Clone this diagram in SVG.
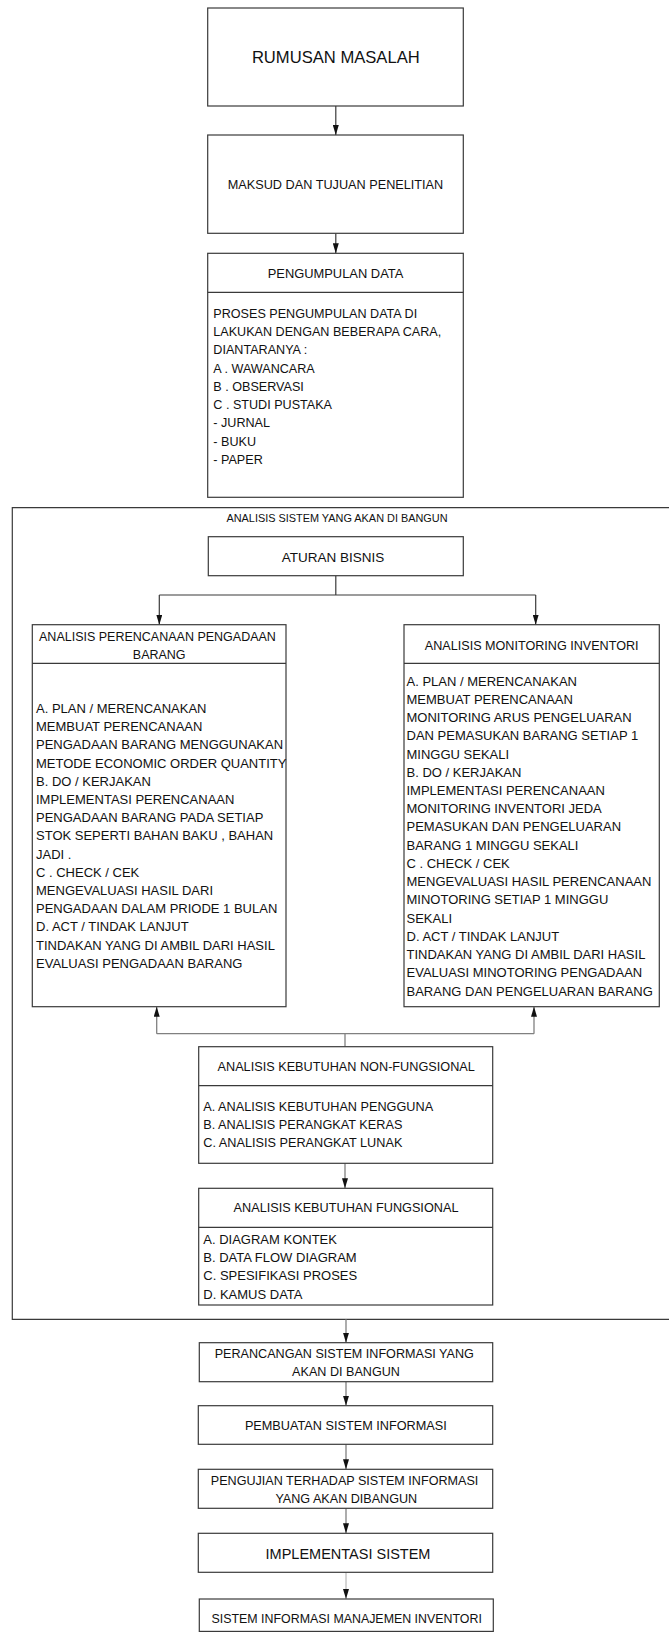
<svg xmlns="http://www.w3.org/2000/svg" width="669" height="1632" viewBox="0 0 669 1632">
<style>
  .box{fill:#fff;stroke:#3a3a3a;stroke-width:1.2}
  .div{stroke:#3a3a3a;stroke-width:1.2;fill:none}
  .ln{stroke:#3a3a3a;stroke-width:1.2;fill:none}
  .lg{stroke:#808080;stroke-width:1.3;fill:none}
  text{font-family:"Liberation Sans",Arial,sans-serif;fill:#111}
  .c{text-anchor:middle}
  .t{font-size:12.7px}
  .b{font-size:13px}
</style>
<defs>
  <marker id="ah" viewBox="0 0 10 6" refX="10" refY="3" markerWidth="10" markerHeight="6" markerUnits="userSpaceOnUse" orient="auto">
    <path d="M0,0 L10,3 L0,6 z" fill="#111"/>
  </marker>
</defs>
<rect width="669" height="1632" fill="#fff"/>

<g id="outer">
  <path class="ln" d="M671,1319.3 H12.3 V507.7 H671"/>
  <text class="c" x="337" y="522.2" style="font-size:10.9px">ANALISIS SISTEM YANG AKAN DI BANGUN</text>
</g>

<g id="connectors">
  <line class="ln" x1="335.8" y1="106" x2="335.8" y2="135" marker-end="url(#ah)"/>
  <line class="ln" x1="335.8" y1="233.3" x2="335.8" y2="253.3" marker-end="url(#ah)"/>
  <line class="ln" x1="335.8" y1="575.7" x2="335.8" y2="595"/>
  <line class="ln" x1="159.3" y1="595" x2="535.7" y2="595"/>
  <line class="ln" x1="159.3" y1="595" x2="159.3" y2="624.7" marker-end="url(#ah)"/>
  <line class="ln" x1="535.7" y1="595" x2="535.7" y2="624.7" marker-end="url(#ah)"/>
  <line class="lg" x1="156.7" y1="1033.7" x2="534" y2="1033.7"/>
  <line class="lg" x1="156.7" y1="1033.7" x2="156.7" y2="1006.7" marker-end="url(#ah)"/>
  <line class="lg" x1="534" y1="1033.7" x2="534" y2="1006.7" marker-end="url(#ah)"/>
  <line class="lg" x1="345" y1="1033.7" x2="345" y2="1046.7"/>
  <line class="lg" x1="345" y1="1163.3" x2="345" y2="1188.3" marker-end="url(#ah)"/>
  <line class="lg" x1="346" y1="1319.3" x2="346" y2="1342.7" marker-end="url(#ah)"/>
  <line class="lg" x1="346" y1="1381.7" x2="346" y2="1405.7" marker-end="url(#ah)"/>
  <line class="lg" x1="346" y1="1444.3" x2="346" y2="1469.3" marker-end="url(#ah)"/>
  <line class="lg" x1="346" y1="1508.3" x2="346" y2="1533.3" marker-end="url(#ah)"/>
  <line class="lg" x1="346" y1="1572.3" x2="346" y2="1599" marker-end="url(#ah)" style="stroke:#aaa;stroke-width:1"/>
</g>

<g id="rumusan">
  <rect class="box" x="207.7" y="8" width="255.6" height="98"/>
  <text class="c" x="335.8" y="63.2" style="font-size:16.6px">RUMUSAN MASALAH</text>
</g>

<g id="maksud">
  <rect class="box" x="207.7" y="135" width="255.6" height="98.3"/>
  <text class="c t" x="335.5" y="188.9">MAKSUD DAN TUJUAN PENELITIAN</text>
</g>

<g id="pengumpulan">
  <rect class="box" x="207.7" y="253.3" width="255.6" height="244"/>
  <line class="div" x1="207.7" y1="292.3" x2="463.3" y2="292.3"/>
  <text class="c" x="335.5" y="277.9" style="font-size:12.9px">PENGUMPULAN DATA</text>
  <text x="213.3" style="font-size:12.6px">
    <tspan x="213.3" y="317.9">PROSES PENGUMPULAN DATA DI</tspan>
    <tspan x="213.3" y="336.15">LAKUKAN DENGAN BEBERAPA CARA,</tspan>
    <tspan x="213.3" y="354.4">DIANTARANYA :</tspan>
    <tspan x="213.3" y="372.65">A . WAWANCARA</tspan>
    <tspan x="213.3" y="390.9">B . OBSERVASI</tspan>
    <tspan x="213.3" y="409.15">C . STUDI PUSTAKA</tspan>
    <tspan x="213.3" y="427.4">- JURNAL</tspan>
    <tspan x="213.3" y="445.65">- BUKU</tspan>
    <tspan x="213.3" y="463.9">- PAPER</tspan>
  </text>
</g>

<g id="aturan">
  <rect class="box" x="208.3" y="536.7" width="255" height="39"/>
  <text class="c" x="333" y="561.5" style="font-size:13.5px">ATURAN BISNIS</text>
</g>

<g id="pengadaan">
  <rect class="box" x="32.3" y="624.7" width="253.7" height="382"/>
  <line class="div" x1="32.3" y1="663.3" x2="286" y2="663.3"/>
  <text class="c" style="font-size:12.5px">
    <tspan x="159.2" y="641.2">ANALISIS PERENCANAAN PENGADAAN</tspan>
    <tspan x="159.2" y="658.8">BARANG</tspan>
  </text>
  <text class="b">
    <tspan x="36" y="712.9">A. PLAN / MERENCANAKAN</tspan>
    <tspan x="36" y="731.1">MEMBUAT PERENCANAAN</tspan>
    <tspan x="36" y="749.3">PENGADAAN BARANG MENGGUNAKAN</tspan>
    <tspan x="36" y="767.5">METODE ECONOMIC ORDER QUANTITY</tspan>
    <tspan x="36" y="785.7">B. DO / KERJAKAN</tspan>
    <tspan x="36" y="803.9">IMPLEMENTASI PERENCANAAN</tspan>
    <tspan x="36" y="822.1">PENGADAAN BARANG PADA SETIAP</tspan>
    <tspan x="36" y="840.3">STOK SEPERTI BAHAN BAKU , BAHAN</tspan>
    <tspan x="36" y="858.5">JADI .</tspan>
    <tspan x="36" y="876.7">C . CHECK / CEK</tspan>
    <tspan x="36" y="894.9">MENGEVALUASI HASIL DARI</tspan>
    <tspan x="36" y="913.1">PENGADAAN DALAM PRIODE 1 BULAN</tspan>
    <tspan x="36" y="931.3">D. ACT / TINDAK LANJUT</tspan>
    <tspan x="36" y="949.5">TINDAKAN YANG  DI AMBIL DARI HASIL</tspan>
    <tspan x="36" y="967.7">EVALUASI PENGADAAN BARANG</tspan>
  </text>
</g>

<g id="monitoring">
  <rect class="box" x="404" y="624.7" width="255.3" height="382"/>
  <line class="div" x1="404" y1="663.3" x2="659.3" y2="663.3"/>
  <text class="c" x="531.7" y="649.5" style="font-size:12.6px">ANALISIS MONITORING INVENTORI</text>
  <text class="b">
    <tspan x="406.5" y="685.6">A. PLAN / MERENCANAKAN</tspan>
    <tspan x="406.5" y="703.83">MEMBUAT PERENCANAAN</tspan>
    <tspan x="406.5" y="722.06">MONITORING ARUS PENGELUARAN</tspan>
    <tspan x="406.5" y="740.29">DAN  PEMASUKAN BARANG SETIAP 1</tspan>
    <tspan x="406.5" y="758.52">MINGGU SEKALI</tspan>
    <tspan x="406.5" y="776.75">B. DO / KERJAKAN</tspan>
    <tspan x="406.5" y="794.98">IMPLEMENTASI PERENCANAAN</tspan>
    <tspan x="406.5" y="813.21">MONITORING INVENTORI JEDA</tspan>
    <tspan x="406.5" y="831.44">PEMASUKAN DAN PENGELUARAN</tspan>
    <tspan x="406.5" y="849.67">BARANG 1 MINGGU SEKALI</tspan>
    <tspan x="406.5" y="867.9">C . CHECK / CEK</tspan>
    <tspan x="406.5" y="886.13">MENGEVALUASI HASIL PERENCANAAN</tspan>
    <tspan x="406.5" y="904.36">MINOTORING SETIAP 1 MINGGU</tspan>
    <tspan x="406.5" y="922.59">SEKALI</tspan>
    <tspan x="406.5" y="940.82">D. ACT / TINDAK LANJUT</tspan>
    <tspan x="406.5" y="959.05">TINDAKAN YANG  DI AMBIL DARI HASIL</tspan>
    <tspan x="406.5" y="977.28">EVALUASI MINOTORING  PENGADAAN</tspan>
    <tspan x="406.5" y="995.51">BARANG DAN PENGELUARAN BARANG</tspan>
  </text>
</g>

<g id="nonfungsional">
  <rect class="box" x="198.7" y="1046.7" width="294" height="116.6"/>
  <line class="div" x1="198.7" y1="1085.7" x2="492.7" y2="1085.7"/>
  <text class="c t" x="346.2" y="1070.5">ANALISIS KEBUTUHAN NON-FUNGSIONAL</text>
  <text class="t">
    <tspan x="203.3" y="1111.2">A. ANALISIS KEBUTUHAN PENGGUNA</tspan>
    <tspan x="203.3" y="1129.4">B. ANALISIS PERANGKAT KERAS</tspan>
    <tspan x="203.3" y="1147.4">C. ANALISIS PERANGKAT LUNAK</tspan>
  </text>
</g>

<g id="fungsional">
  <rect class="box" x="198.7" y="1188.3" width="294" height="116.7"/>
  <line class="div" x1="198.7" y1="1227.3" x2="492.7" y2="1227.3"/>
  <text class="c t" x="346" y="1212.2">ANALISIS KEBUTUHAN FUNGSIONAL</text>
  <text class="b">
    <tspan x="203.3" y="1243.8">A. DIAGRAM KONTEK</tspan>
    <tspan x="203.3" y="1261.8">B. DATA FLOW DIAGRAM</tspan>
    <tspan x="203.3" y="1280.2">C. SPESIFIKASI PROSES</tspan>
    <tspan x="203.3" y="1298.5">D. KAMUS DATA</tspan>
  </text>
</g>

<g id="perancangan">
  <rect class="box" x="199.3" y="1342.7" width="293.4" height="39"/>
  <text class="c" style="font-size:12.6px">
    <tspan x="346" y="1357.8">PERANCANGAN SISTEM INFORMASI YANG</tspan>
    <tspan x="346" y="1376.2">AKAN DI BANGUN</tspan>
  </text>
</g>

<g id="pembuatan">
  <rect class="box" x="198.3" y="1405.7" width="294.4" height="38.6"/>
  <text class="c t" x="345.8" y="1429.5">PEMBUATAN SISTEM INFORMASI</text>
</g>

<g id="pengujian">
  <rect class="box" x="198.3" y="1469.3" width="294.4" height="39"/>
  <text class="c" style="font-size:12.6px">
    <tspan x="346.3" y="1484.5">PENGUJIAN TERHADAP SISTEM INFORMASI</tspan>
    <tspan x="346.3" y="1502.8">YANG AKAN DIBANGUN</tspan>
  </text>
</g>

<g id="implementasi">
  <rect class="box" x="198.3" y="1533.3" width="294.4" height="39"/>
  <text class="c" x="348" y="1558.5" style="font-size:14.5px">IMPLEMENTASI SISTEM</text>
</g>

<g id="sim">
  <rect class="box" x="199.3" y="1599" width="294" height="32.4"/>
  <text class="c" x="346.7" y="1622.8" style="font-size:12.4px">SISTEM INFORMASI MANAJEMEN INVENTORI</text>
</g>
</svg>
